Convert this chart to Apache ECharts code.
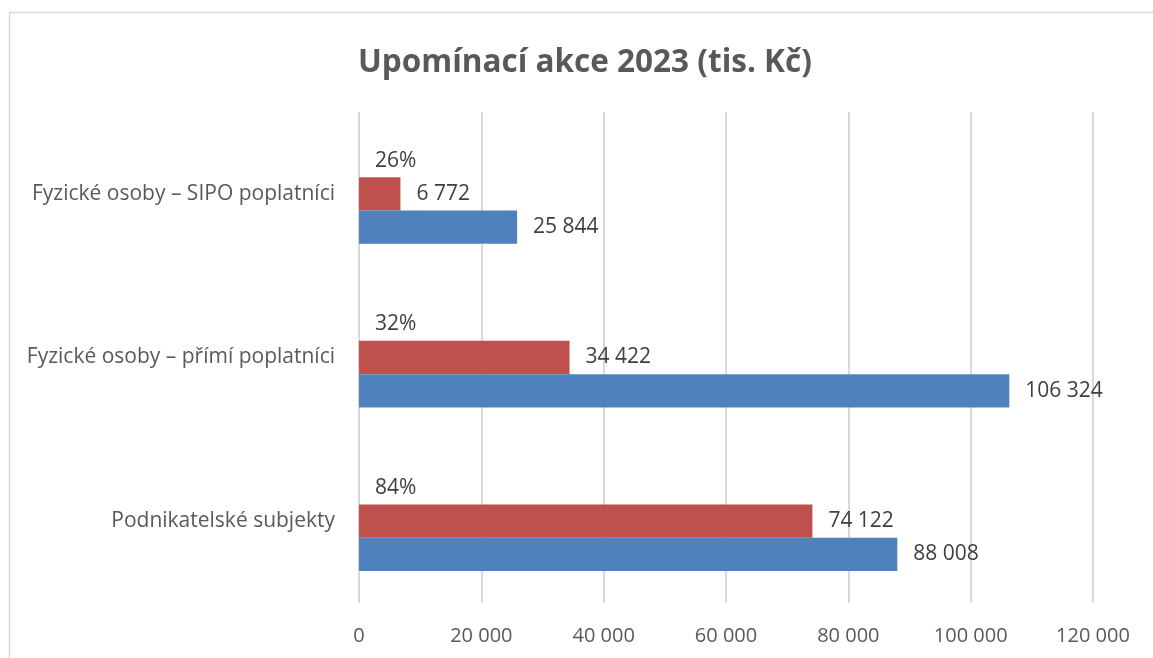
<!DOCTYPE html>
<html><head><meta charset="utf-8">
<script src="https://cdn.jsdelivr.net/npm/echarts@6/dist/echarts.min.js"></script>
<style>html,body{margin:0;padding:0;background:#fff}#c{width:1153px;height:658px}</style>
</head><body><div id="c"></div>
<script>
const title = 'Upomínací akce 2023 (tis. Kč)';
const categories = ['Podnikatelské subjekty', 'Fyzické osoby – přímí poplatníci', 'Fyzické osoby – SIPO poplatníci'];
const blueValues = [88008, 106324, 25844];
const redValues = [74122, 34422, 6772];
const pctLabels = [84, 32, 26];
const pctBase = [0, 0, 0];
const xTicks = { min: 0, max: 120000, interval: 20000 };

const FONT = '"Open Sans", "Noto Sans", sans-serif';
const fmt = v => String(Math.round(v)).replace(/\B(?=(\d{3})+(?!\d))/g, ' ');
const chart = echarts.init(document.getElementById('c'));
const lbl = { show: true, position: 'right', distance: 16, color: '#404040', fontSize: 21, fontFamily: FONT };
const GAP = '39%';
chart.setOption({
  animation: false,
  graphic: [{ type: 'rect', shape: { x: 9.5, y: 12.5, width: 1300, height: 800 }, style: { fill: 'none', stroke: '#d9d9d9', lineWidth: 1.5 }, silent: true }],
  title: { text: title, left: 353, top: 42, textStyle: { fontFamily: FONT, fontWeight: 'bold', fontSize: 31.5, color: '#595959' } },
  grid: { left: 359, right: 60, top: 112, bottom: 55 },
  xAxis: { type: 'value', min: xTicks.min, max: xTicks.max, interval: xTicks.interval,
    axisLine: { show: false }, axisTick: { show: false },
    splitLine: { lineStyle: { color: '#d9d9d9', width: 2 } },
    axisLabel: { margin: 23, color: '#595959', fontSize: 20, fontFamily: FONT, formatter: fmt } },
  yAxis: { type: 'category', data: categories,
    axisLine: { show: false }, axisTick: { show: false },
    axisLabel: { margin: 24, color: '#595959', fontSize: 21, fontFamily: FONT, lineHeight: 28, padding: [6, 0, 0, 0] } },
  series: [
    { type: 'bar', data: pctBase, itemStyle: { color: 'transparent' }, barGap: '0%', barCategoryGap: GAP,
      label: Object.assign({}, lbl, { formatter: p => pctLabels[p.dataIndex] + '%' }) },
    { type: 'bar', data: redValues, itemStyle: { color: '#C0504D' }, barGap: '0%', barCategoryGap: GAP,
      label: Object.assign({}, lbl, { formatter: p => fmt(p.value) }) },
    { type: 'bar', data: blueValues, itemStyle: { color: '#4F81BD' }, barGap: '0%', barCategoryGap: GAP,
      label: Object.assign({}, lbl, { formatter: p => fmt(p.value) }) }
  ]
});
</script></body></html>
